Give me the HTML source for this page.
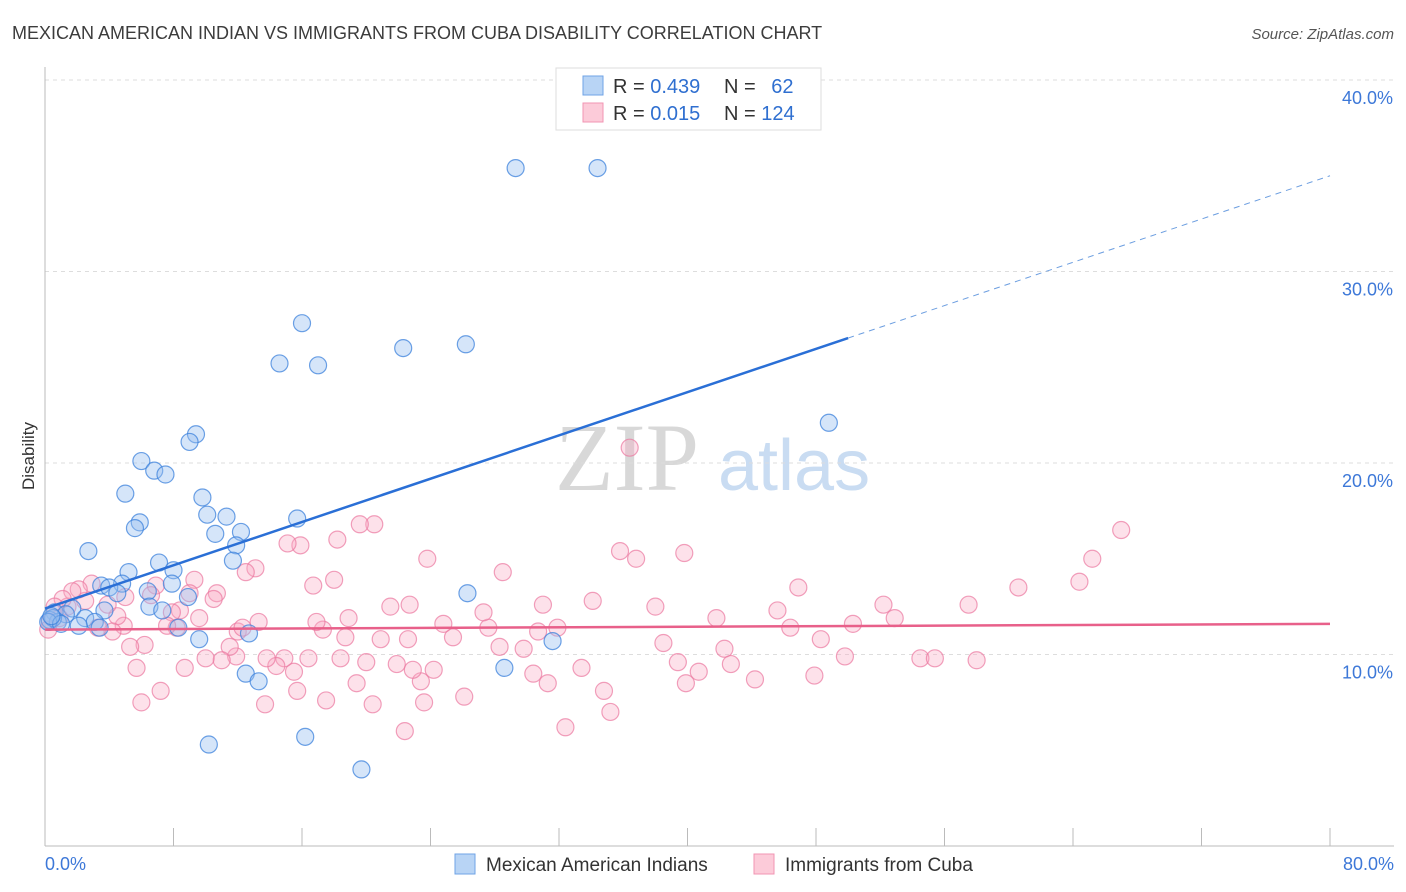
<!DOCTYPE html>
<html><head><meta charset="utf-8"><style>
body{margin:0;background:#fff;font-family:"Liberation Sans",sans-serif;}
svg{display:block}
</style></head><body>
<svg id="chart" width="1406" height="892" viewBox="0 0 1406 892">
<text x="12" y="39" font-size="18" fill="#3c3c3c">MEXICAN AMERICAN INDIAN VS IMMIGRANTS FROM CUBA DISABILITY CORRELATION CHART</text>
<text x="1394" y="39" font-size="15" fill="#555" text-anchor="end" font-style="italic">Source: ZipAtlas.com</text>
<text x="555" y="490" font-size="96" fill="#d8d8d8" font-family="Liberation Serif">ZIP</text>
<text x="718" y="490" font-size="72" fill="#c9dcf2">atlas</text>
<text transform="translate(34,456) rotate(-90)" font-size="17" fill="#333" text-anchor="middle">Disability</text>
<g id="grid"></g><g id="axes"></g><g id="pts"></g><g id="lines"></g>
<g>
<rect x="556" y="68" width="265" height="62" fill="#fff" stroke="#ddd"/>
<rect x="583" y="76" width="20" height="19" fill="#b8d4f5" stroke="#6fa3e6"/>
<rect x="583" y="103" width="20" height="19" fill="#fccbd9" stroke="#f295b3"/>
<text x="613" y="93" font-size="20" fill="#333">R = <tspan fill="#2f6fd0">0.439</tspan></text>
<text x="724" y="93" font-size="20" fill="#333">N = <tspan fill="#2f6fd0" dx="10">62</tspan></text>
<text x="613" y="120" font-size="20" fill="#333">R = <tspan fill="#2f6fd0">0.015</tspan></text>
<text x="724" y="120" font-size="20" fill="#333">N = <tspan fill="#2f6fd0">124</tspan></text>
</g>
<g>
<rect x="455" y="854" width="20" height="20" fill="#b8d4f5" stroke="#6fa3e6"/>
<text x="486" y="871" font-size="19" fill="#333">Mexican American Indians</text>
<rect x="754" y="854" width="20" height="20" fill="#fccbd9" stroke="#f295b3"/>
<text x="785" y="871" font-size="19" fill="#333">Immigrants from Cuba</text>
</g>
</svg>
<script>
const yTicks=[10,20,30,40];
const yTickLabels=["10.0%","20.0%","30.0%","40.0%"];
const xTickLabels=["0.0%","80.0%"];
const blueX=[29.3,34.4,16.0,14.6,17.0,22.3,26.2,48.8,9.4,9.0,6.0,6.8,7.5,5.0,9.8,10.1,11.3,15.7,5.9,5.6,10.6,12.2,11.9,2.7,7.1,11.7,5.2,8.0,26.3,4.8,3.5,4.0,7.9,6.4,4.5,8.9,6.5,3.7,7.3,1.7,0.6,1.3,2.5,0.3,0.8,3.1,2.1,3.4,8.3,12.7,9.6,31.6,28.6,12.5,13.3,10.2,16.2,19.7,0.5,0.2,1.0,0.4];
const blueY=[35.4,35.4,27.3,25.2,25.1,26.0,26.2,22.1,21.5,21.1,20.1,19.6,19.4,18.4,18.2,17.3,17.2,17.1,16.9,16.6,16.3,16.4,15.7,15.4,14.8,14.9,14.3,14.4,13.2,13.7,13.6,13.5,13.7,13.3,13.2,13.0,12.5,12.3,12.3,12.4,12.2,12.1,11.9,11.8,11.7,11.7,11.5,11.4,11.4,11.1,10.8,10.7,9.3,9.0,8.6,5.3,5.7,4.0,11.9,11.7,11.6,12.0];
const pinkX=[36.4,67.0,65.2,64.4,60.6,57.5,52.2,52.9,50.3,49.8,47.9,48.3,46.4,45.6,46.9,41.8,42.3,42.7,44.2,40.7,39.9,39.4,38.5,38.0,39.8,36.8,35.8,34.1,33.4,34.8,35.2,32.4,31.3,30.4,31.9,31.0,30.7,29.8,28.3,27.6,27.3,28.5,26.1,25.4,24.8,24.2,23.4,23.6,22.9,23.8,22.7,22.6,21.5,21.9,22.4,20.9,20.0,20.4,19.4,20.5,19.6,18.9,18.7,18.4,18.2,18.0,17.5,17.3,16.9,16.7,16.4,15.9,15.1,15.7,15.5,14.9,14.4,13.8,13.7,13.3,13.1,12.5,12.0,12.3,11.9,11.5,11.0,10.0,10.7,10.5,9.6,9.3,9.0,8.4,8.2,7.9,8.7,7.6,7.2,6.9,6.6,6.2,6.0,5.7,5.3,5.0,4.9,4.5,4.2,3.9,3.3,2.9,2.5,2.1,1.7,1.4,1.1,0.6,0.3,0.2,0.9,54.5,55.4,58.0];
const pinkY=[20.8,16.5,15.0,13.8,13.5,12.6,12.6,11.9,11.6,9.9,8.9,10.8,11.4,12.3,13.5,11.9,10.3,9.5,8.7,9.1,8.5,9.6,10.6,12.5,15.3,15.0,15.4,12.8,9.3,8.1,7.0,6.2,8.5,9.0,11.4,12.6,11.2,10.3,10.4,11.4,12.2,14.3,7.8,10.9,11.6,9.2,8.6,7.5,9.2,15.0,12.6,10.8,12.5,9.5,6.0,10.8,9.6,7.4,8.5,16.8,16.8,11.9,10.9,9.8,16.0,13.9,7.6,11.3,11.7,13.6,9.8,15.7,15.8,8.1,9.1,9.8,9.4,9.8,7.4,11.7,14.5,14.3,11.2,11.4,9.9,10.4,9.7,9.8,13.2,12.9,11.9,13.9,13.2,12.3,11.4,12.2,9.3,11.5,8.1,13.6,13.1,10.5,7.5,9.3,10.4,13.0,11.5,12.0,11.2,12.6,11.4,13.7,12.8,13.4,13.3,12.5,12.9,12.5,11.7,11.3,11.9,9.8,9.8,9.7];
const blueTrend=[12.4,35.0], pinkTrend=[11.3,11.6];
const X0=45,X1=1330,Y0=846,PX=(1330-45)/80,PY=19.15;
const sx=v=>X0+v*PX, sy=v=>Y0-v*PY;
const NS="http://www.w3.org/2000/svg";
function mk(tag,attrs,parent){const e=document.createElementNS(NS,tag);for(const k in attrs)e.setAttribute(k,attrs[k]);document.getElementById(parent).appendChild(e);return e;}
yTicks.forEach((t,i)=>{
 const g=mk('line',{x1:45,x2:1394,y1:sy(t),y2:sy(t),stroke:'#ddd','stroke-dasharray':'4,4'},'grid');
 
 
 const l=mk('text',{x:1393,y:sy(t)+24,'font-size':18,fill:'#3d78d8','text-anchor':'end'},'axes');
 l.textContent=yTickLabels[i];
 
 
});
const ya=mk('line',{x1:45,x2:45,y1:67,y2:846,stroke:'#bbb'},'axes');


const xa=mk('line',{x1:45,x2:1394,y1:846,y2:846,stroke:'#bbb'},'axes');


for(let i=0;i<=10;i++){const t=mk('line',{x1:sx(i*8),x2:sx(i*8),y1:828,y2:846,stroke:'#bbb'},'axes');
 
 }
[[0,'start',45],[80,'end',1394]].forEach((a,i)=>{const t=mk('text',{x:a[2],y:870,'font-size':18,fill:'#3d78d8','text-anchor':a[1]},'axes');t.textContent=xTickLabels[i];
 
 });
pinkX.forEach((x,i)=>{const c=mk('circle',{cx:sx(x),cy:sy(pinkY[i]),r:8.5,fill:'rgba(248,170,195,0.35)',stroke:'rgba(235,120,160,0.7)','stroke-width':1.2},'pts');
 
 });
blueX.forEach((x,i)=>{const c=mk('circle',{cx:sx(x),cy:sy(blueY[i]),r:8.5,fill:'rgba(150,190,240,0.4)',stroke:'rgba(60,130,220,0.75)','stroke-width':1.2},'pts');
 
 });
const bAt=x=>blueTrend[0]+(blueTrend[1]-blueTrend[0])*x/80;
const b1=mk('line',{x1:sx(0),y1:sy(bAt(0)),x2:sx(50),y2:sy(bAt(50)),stroke:'#2a6fd6','stroke-width':2.5},'lines');


const b2=mk('line',{x1:sx(50),y1:sy(bAt(50)),x2:sx(80),y2:sy(bAt(80)),stroke:'#6c9ee0','stroke-width':1,'stroke-dasharray':'6,5'},'lines');


const p1=mk('line',{x1:sx(0),y1:sy(pinkTrend[0]),x2:sx(80),y2:sy(pinkTrend[1]),stroke:'#e8608a','stroke-width':2.5},'lines');


</script>
</body></html>
